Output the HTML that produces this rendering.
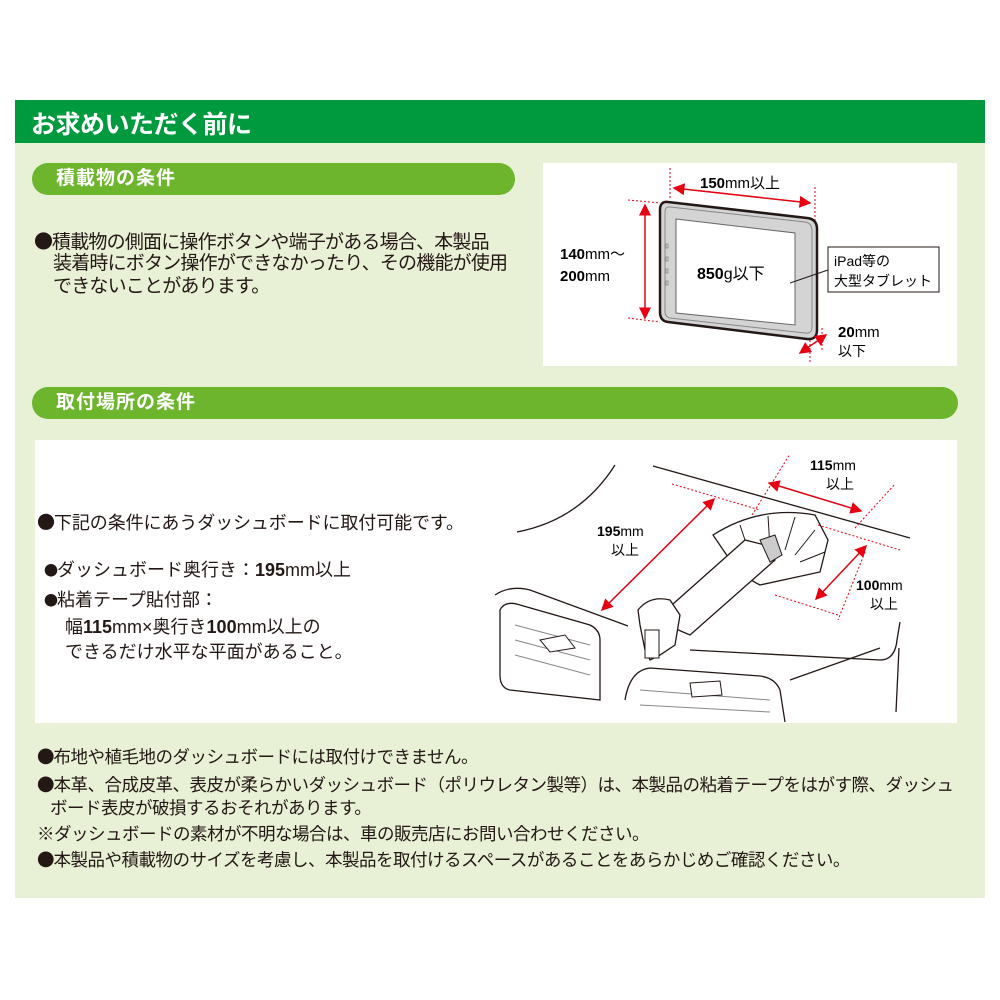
<!DOCTYPE html>
<html><head><meta charset="utf-8">
<style>
body{margin:0;width:1000px;height:1000px;background:#fff;position:relative;overflow:hidden;font-family:"Liberation Sans","Noto Sans CJK JP",sans-serif;color:#231815}
.abs{position:absolute;white-space:nowrap}
.hdr{left:15px;top:100px;width:970px;height:43px;background:#009a3e}
.hdr span{position:absolute;left:16px;top:5px;color:#fff;font-weight:bold;font-size:25px;letter-spacing:-0.5px}
.panel{left:15px;top:143px;width:970px;height:755px;background:#e8f0d5}
.pill{background:#6cb52d;border-radius:17px;height:32px;color:#fff;font-weight:bold;font-size:19px;line-height:32px;padding-left:24px;box-sizing:border-box;letter-spacing:1px}
.box{background:#fff}
.t20{font-size:19px;letter-spacing:-0.8px;line-height:23px}
.t18{font-size:17.5px;letter-spacing:-0.5px}
.bl{font-family:"Noto Sans CJK JP",sans-serif;letter-spacing:-1px}
b{font-weight:bold}
</style></head><body>
<div class="abs hdr"><span>お求めいただく前に</span></div>
<div class="abs panel"></div>
<div class="abs pill" style="left:32px;top:163px;width:483px">積載物の条件</div>
<div class="abs pill" style="left:32px;top:387px;width:926px">取付場所の条件</div>
<div class="abs box" style="left:543px;top:163px;width:414px;height:203px"></div>
<div class="abs box" style="left:35px;top:440px;width:922px;height:283px"></div>

<div class="abs t20" style="left:34px;top:229px"><span class="bl">●</span>積載物の側面に操作ボタンや端子がある場合、本製品</div>
<div class="abs t20" style="left:53px;top:252px">装着時にボタン操作ができなかったり、その機能が使用</div>
<div class="abs t20" style="left:53px;top:275px">できないことがあります。</div>

<div class="abs" style="left:37px;top:509px;font-size:18px;letter-spacing:-0.1px"><span class="bl">●</span>下記の条件にあうダッシュボードに取付可能です。</div>
<div class="abs" style="left:44px;top:556px;font-size:18px"><span class="bl" style="font-size:14px">●</span>ダッシュボード奥行き：<b>195</b>mm以上</div>
<div class="abs" style="left:44px;top:586px;font-size:18px"><span class="bl" style="font-size:14px">●</span>粘着テープ貼付部：</div>
<div class="abs" style="left:65px;top:613px;font-size:18px">幅<b>115</b>mm×奥行き<b>100</b>mm以上の</div>
<div class="abs" style="left:65px;top:638px;font-size:18px">できるだけ水平な平面があること。</div>

<div class="abs t18" style="left:37px;top:744px"><span class="bl">●</span>布地や植毛地のダッシュボードには取付けできません。</div>
<div class="abs t18" style="left:37px;top:772px"><span class="bl">●</span>本革、合成皮革、表皮が柔らかいダッシュボード（ポリウレタン製等）は、本製品の粘着テープをはがす際、ダッシュ</div>
<div class="abs t18" style="left:50px;top:795px">ボード表皮が破損するおそれがあります。</div>
<div class="abs t18" style="left:37px;top:821px">※ダッシュボードの素材が不明な場合は、車の販売店にお問い合わせください。</div>
<div class="abs t18" style="left:37px;top:847px"><span class="bl">●</span>本製品や積載物のサイズを考慮し、本製品を取付けるスペースがあることをあらかじめご確認ください。</div>

<svg class="abs" style="left:0;top:0" width="1000" height="1000" font-family="Liberation Sans, Noto Sans CJK JP, sans-serif">
<defs>
<marker id="a" markerWidth="8" markerHeight="8" refX="7" refY="4" orient="auto-start-reverse"><path d="M0,0 L8,4 L0,8 z" fill="#e60012"/></marker>
</defs>
<path d="M668,202 L807,218 Q817,219 817,229 L817,330 Q817,340 807,339 L668,322 Q660,321 660,312 L660,210 Q660,201 668,202 z" fill="#d4d4d4" stroke="#231815" stroke-width="2.5"/>
<path d="M670,207 L805,222 Q812,223 812,231 L812,327 Q812,334 805,333 L670,318 Q665,317 665,311 L665,213 Q665,206 670,207z" fill="none" stroke="#888" stroke-width="1"/>
<path d="M676,219 L795,233 L795,325 L676,313 z" fill="#fff" stroke="#666" stroke-width="1"/>
<g fill="none" stroke="#999" stroke-width="1"><rect x="666" y="244" width="2" height="4"/><rect x="666" y="257" width="2" height="4"/><rect x="666" y="269" width="2" height="4"/><rect x="666" y="281" width="2" height="4"/></g>
<g stroke="#e60012" stroke-width="1" stroke-dasharray="2,2" fill="none">
<line x1="670" y1="168" x2="670" y2="200"/><line x1="815" y1="187" x2="815" y2="220"/>
<line x1="628" y1="200" x2="660" y2="203"/><line x1="628" y1="318" x2="660" y2="322"/>
<line x1="810" y1="340" x2="810" y2="362"/><line x1="822" y1="328" x2="822" y2="352"/>
</g>
<g stroke="#e60012" stroke-width="1.5" marker-start="url(#a)" marker-end="url(#a)">
<line x1="674" y1="188" x2="810" y2="203"/>
<line x1="645" y1="205" x2="645" y2="318"/>
<line x1="800" y1="353" x2="826" y2="335"/>
</g>
<rect x="828" y="247" width="111" height="45" fill="#fff" stroke="#231815" stroke-width="1"/>
<line x1="790" y1="283" x2="828" y2="270" stroke="#231815" stroke-width="1"/>
<text x="700" y="188" font-size="15"><tspan font-weight="bold">150</tspan>mm以上</text>
<text x="560" y="259" font-size="15"><tspan font-weight="bold">140</tspan>mm～</text>
<text x="560" y="281" font-size="15"><tspan font-weight="bold">200</tspan>mm</text>
<text x="697" y="279" font-size="16"><tspan font-weight="bold">850</tspan>g以下</text>
<text x="834" y="266" font-size="14">iPad等の</text>
<text x="834" y="286" font-size="14">大型タブレット</text>
<text x="838" y="337" font-size="15"><tspan font-weight="bold">20</tspan>mm</text>
<text x="838" y="356" font-size="14">以下</text>

<g fill="none" stroke="#231815" stroke-width="1.3">
<path d="M517,532 Q580,520 615,465"/>
<path d="M653,466 L910,538"/>
<path d="M495,595 Q510,585 530,590 L628,626"/>
<path d="M690,650 L880,660 Q895,660 897,640 L900,622"/>
<path d="M790,680 L880,648"/>
<path d="M899,648 L896,712"/>
<path d="M500,610 Q505,600 520,605 L590,625 Q600,630 600,640 L600,700 L510,690 Q500,688 500,675 z"/>
<path d="M625,700 Q630,670 650,668 L760,676 Q775,678 780,690 L785,722"/>
</g>
<g stroke="#888" stroke-width="1" fill="none">
<line x1="515" y1="625" x2="590" y2="645"/><line x1="515" y1="640" x2="590" y2="660"/><line x1="515" y1="655" x2="590" y2="675"/>
<line x1="640" y1="690" x2="770" y2="700"/><line x1="640" y1="705" x2="770" y2="712"/>
<path d="M540,640 L565,635 L575,648 L550,652 z" fill="#fff" stroke="#231815"/>
<path d="M690,683 L720,681 L722,695 L692,697 z" fill="#fff" stroke="#231815"/>
</g>
<path d="M713,535 Q760,505 815,515 L828,540 L820,572 L760,585 Q740,575 730,560 Z" fill="#fff" stroke="#231815" stroke-width="1.3"/>
<g stroke="#231815" stroke-width="1"><line x1="740" y1="525" x2="750" y2="555"/><line x1="768" y1="516" x2="770" y2="548"/><line x1="795" y1="517" x2="785" y2="550"/><line x1="815" y1="530" x2="795" y2="555"/><line x1="825" y1="552" x2="800" y2="562"/></g>
<path d="M655,620 L745,540 L765,545 L775,560 L690,635 z" fill="#fff" stroke="#231815" stroke-width="1.3"/>
<path d="M760,540 L775,535 L782,555 L770,562 z" fill="#ccc" stroke="#231815"/>
<path d="M638,610 Q650,595 670,600 L680,615 L675,645 L660,655 L650,660 L645,650 L640,625 z" fill="#fff" stroke="#231815" stroke-width="1.3"/>
<rect x="645" y="630" width="14" height="28" fill="#fff" stroke="#231815"/>
<g stroke="#e60012" stroke-width="1" stroke-dasharray="2,2" fill="none">
<line x1="672" y1="484" x2="760" y2="510"/><line x1="752" y1="515" x2="790" y2="454"/>
<line x1="855" y1="528" x2="895" y2="484"/><line x1="818" y1="525" x2="900" y2="550"/>
<line x1="775" y1="595" x2="838" y2="615"/><line x1="865" y1="552" x2="838" y2="620"/>
</g>
<g stroke="#e60012" stroke-width="1.5" marker-start="url(#a)" marker-end="url(#a)">
<line x1="602" y1="610" x2="714" y2="499"/>
<line x1="769" y1="483" x2="861" y2="511"/>
<line x1="816" y1="599" x2="866" y2="546"/>
</g>
<text x="810" y="470" font-size="14"><tspan font-weight="bold">115</tspan>mm</text>
<text x="826" y="489" font-size="14">以上</text>
<text x="597" y="536" font-size="14"><tspan font-weight="bold">195</tspan>mm</text>
<text x="611" y="555" font-size="14">以上</text>
<text x="856" y="590" font-size="14"><tspan font-weight="bold">100</tspan>mm</text>
<text x="870" y="609" font-size="14">以上</text>
</svg>
</body></html>
